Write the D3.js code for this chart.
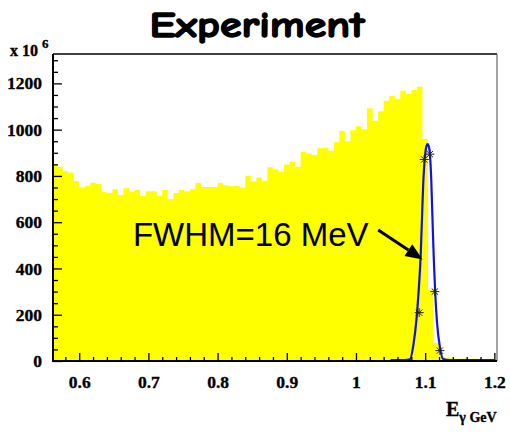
<!DOCTYPE html>
<html lang="en">
<head>
<meta charset="UTF-8">
<title>Experiment</title>
<script src="https://d3js.org/d3.v7.min.js"></script>
<style>
    body { margin: 0; padding: 0; background: #fff; overflow: hidden; }
    svg { display: block; }
    .axis text { font-family: "Liberation Serif", "Times New Roman", serif; font-weight: bold; font-size: 17.5px; fill: #000; stroke: #000; stroke-width: 0.35px; }
    .axis line { stroke: #000; stroke-width: 1.3px; }
    .axis path { display: none; }
</style>
</head>
<body>
<svg id="chart" width="510" height="433"></svg>
<script>
// histogram: 80 bins of 0.008 GeV starting at 0.56
var binStart = 0.56;
var binWidth = 0.008;
var counts = [
    851, 840, 820, 815, 778, 750, 758, 770, 765, 730,
    726, 742, 718, 747, 733, 739, 713, 734, 734, 714,
    739, 699, 726, 739, 734, 742, 769, 752, 752, 752,
    769, 760, 755, 757, 749, 800, 776, 793, 779, 838,
    828, 818, 848, 861, 840, 904, 897, 890, 920, 922,
    909, 946, 994, 950, 997, 1015, 1002, 1093, 1038, 1080,
    1125, 1145, 1132, 1168, 1154, 1171, 1185, 960, 310, 78,
    20, 14, 12, 10, 11, 9, 10, 8, 9, 10
];

// blue fitted peak
var fitX = [1.050, 1.070, 1.078, 1.083, 1.0876, 1.0905, 1.0934, 1.0952, 1.0971, 1.0996, 1.1015,
            1.1035, 1.1055, 1.1068, 1.1087, 1.1107, 1.1126, 1.1145, 1.1173, 1.1212, 1.126, 1.135, 1.2];
var fitY = [4, 4, 7, 70, 185, 300, 450, 600, 760, 880, 925,
            938, 925, 895, 790, 600, 430, 295, 160, 62, 8, 4, 4];

// star markers (measured points)
var starX = [1.0913, 1.0986, 1.1068, 1.114, 1.1212];
var starY = [209, 871, 894, 300, 45];

var xMajor = [0.6, 0.7, 0.8, 0.9, 1.0, 1.1, 1.2];
var xLabels = ["0.6", "0.7", "0.8", "0.9", "1", "1.1", "1.2"];
var yMajor = [0, 200, 400, 600, 800, 1000, 1200];

(function() {
    var width = 510, height = 433;
    var plotLeft = 53, plotRight = 497, plotTop = 54, plotBottom = 361;

    var svg = d3.select('#chart');

    var x = d3.scaleLinear().domain([0.5621, 1.2038]).range([plotLeft, plotRight]);
    var y = d3.scaleLinear().domain([0, 1327]).range([plotBottom, plotTop]);

    svg.append('rect').attr('width', width).attr('height', height).attr('fill', '#fff');

    svg.append('clipPath').attr('id', 'plotclip')
        .append('rect')
        .attr('x', plotLeft).attr('y', plotTop)
        .attr('width', plotRight - plotLeft).attr('height', plotBottom - plotTop);

    var plot = svg.append('g').attr('clip-path', 'url(#plotclip)');

    // yellow histogram
    var histPts = counts.map(function(c, i) { return [binStart + i * binWidth, c]; });
    histPts.push([binStart + counts.length * binWidth, counts[counts.length - 1]]);

    var area = d3.area()
        .x(function(d) { return x(d[0]); })
        .y0(y(0))
        .y1(function(d) { return y(d[1]); })
        .curve(d3.curveStepAfter);

    plot.append('path')
        .datum(histPts)
        .attr('d', area)
        .attr('fill', '#ffff00')
        .attr('stroke', 'none');

    // fit curve
    var fitPts = fitX.map(function(v, i) { return [v, fitY[i]]; });
    var line = d3.line()
        .x(function(d) { return x(d[0]); })
        .y(function(d) { return y(d[1]); })
        .curve(d3.curveMonotoneX);

    plot.append('path')
        .datum(fitPts)
        .attr('d', line)
        .attr('fill', 'none')
        .attr('stroke', '#1010e8')
        .attr('stroke-width', 2.2);

    // star markers
    var stars = plot.append('g');
    starX.forEach(function(v, i) {
        var cx = x(v), cy = y(starY[i]), r = 4.5, d = 3.2;
        var g = stars.append('g').attr('stroke', '#222').attr('stroke-width', 1);
        g.append('line').attr('x1', cx - r).attr('x2', cx + r).attr('y1', cy).attr('y2', cy);
        g.append('line').attr('x1', cx).attr('x2', cx).attr('y1', cy - r).attr('y2', cy + r);
        g.append('line').attr('x1', cx - d).attr('x2', cx + d).attr('y1', cy - d).attr('y2', cy + d);
        g.append('line').attr('x1', cx - d).attr('x2', cx + d).attr('y1', cy + d).attr('y2', cy - d);
    });

    // x axis, ticks pointing inwards
    var xMinor = d3.range(0.58, 1.2001, 0.02).filter(function(v) {
        return Math.abs(v * 10 - Math.round(v * 10)) > 1e-6;
    });

    svg.append('g')
        .attr('class', 'axis')
        .attr('transform', 'translate(0,' + plotBottom + ')')
        .call(d3.axisBottom(x).tickValues(xMinor).tickSize(-4).tickSizeOuter(0).tickFormat(''));

    svg.append('g')
        .attr('class', 'axis')
        .attr('transform', 'translate(0,' + plotBottom + ')')
        .call(d3.axisBottom(x).tickValues(xMajor).tickSize(-8).tickSizeOuter(0).tickPadding(15)
            .tickFormat(function(d, i) { return xLabels[i]; }));

    // y axis
    var yMinor = d3.range(50, 1301, 50).filter(function(v) { return v % 200 !== 0; });

    svg.append('g')
        .attr('class', 'axis')
        .attr('transform', 'translate(' + plotLeft + ',0)')
        .call(d3.axisLeft(y).tickValues(yMinor).tickSize(-5).tickSizeOuter(0).tickFormat(''));

    svg.append('g')
        .attr('class', 'axis')
        .attr('transform', 'translate(' + plotLeft + ',0)')
        .call(d3.axisLeft(y).tickValues(yMajor).tickSize(-9).tickSizeOuter(0).tickPadding(11)
            .tickFormat(d3.format('d')));

    // frame
    svg.append('line').attr('x1', plotLeft).attr('x2', plotRight).attr('y1', plotTop).attr('y2', plotTop)
        .attr('stroke', '#000').attr('stroke-width', 1.5);
    svg.append('line').attr('x1', plotRight).attr('x2', plotRight).attr('y1', plotTop).attr('y2', plotBottom)
        .attr('stroke', '#666').attr('stroke-width', 1.2);
    svg.append('line').attr('x1', plotLeft).attr('x2', plotLeft).attr('y1', plotTop).attr('y2', plotBottom + 1)
        .attr('stroke', '#000').attr('stroke-width', 2);
    svg.append('line').attr('x1', plotLeft).attr('x2', plotRight).attr('y1', plotBottom).attr('y2', plotBottom)
        .attr('stroke', '#000').attr('stroke-width', 2);

    // exponent label
    var expo = svg.append('text')
        .attr('x', 10).attr('y', 56)
        .attr('font-family', '"Liberation Serif", serif')
        .attr('font-weight', 'bold')
        .attr('font-size', 16)
        .attr('stroke', '#000').attr('stroke-width', 0.35);
    expo.append('tspan').text('x 10 ');
    expo.append('tspan').attr('dy', -8).attr('font-size', 13).text('6');

    // x axis title
    var xt = svg.append('text')
        .attr('x', 446).attr('y', 416)
        .attr('font-family', '"Liberation Serif", serif')
        .attr('font-weight', 'bold')
        .attr('font-size', 20)
        .attr('stroke', '#000').attr('stroke-width', 0.35);
    xt.append('tspan').text('E');
    xt.append('tspan').attr('dy', 6).attr('font-size', 14).text('\u03b3 GeV');

    // title
    svg.append('text')
        .attr('x', 257).attr('y', 37)
        .attr('text-anchor', 'middle')
        .attr('font-family', '"Comic Sans MS", "Comic Neue", "DejaVu Sans", sans-serif')
        .attr('font-weight', 'bold')
        .attr('font-size', 37)
        .attr('textLength', 215)
        .attr('lengthAdjust', 'spacingAndGlyphs')
        .attr('stroke', '#000').attr('stroke-width', 1.4)
        .text('Experiment');

    // annotation
    var noteX = 0.6776, noteY = 497;
    var arrowFrom = [1.0321, 566], arrowTo = [1.0962, 439];

    svg.append('text')
        .attr('x', x(noteX)).attr('y', y(noteY))
        .attr('font-family', '"Liberation Sans", Arial, sans-serif')
        .attr('font-size', 33)
        .attr('fill', '#000')
        .text('FWHM=16 MeV');

    var ax0 = x(arrowFrom[0]), ay0 = y(arrowFrom[1]);
    var ax1 = x(arrowTo[0]), ay1 = y(arrowTo[1]);
    var ang = Math.atan2(ay1 - ay0, ax1 - ax0);
    var headLen = 17, headW = 7;
    var bx = ax1 - headLen * Math.cos(ang), by = ay1 - headLen * Math.sin(ang);

    svg.append('line')
        .attr('x1', ax0).attr('y1', ay0).attr('x2', bx).attr('y2', by)
        .attr('stroke', '#000').attr('stroke-width', 3);

    svg.append('path')
        .attr('d', 'M' + ax1 + ',' + ay1 +
            'L' + (bx + headW * Math.sin(ang)) + ',' + (by - headW * Math.cos(ang)) +
            'L' + (bx - headW * Math.sin(ang)) + ',' + (by + headW * Math.cos(ang)) + 'Z')
        .attr('fill', '#000');
})();
</script>
</body>
</html>
